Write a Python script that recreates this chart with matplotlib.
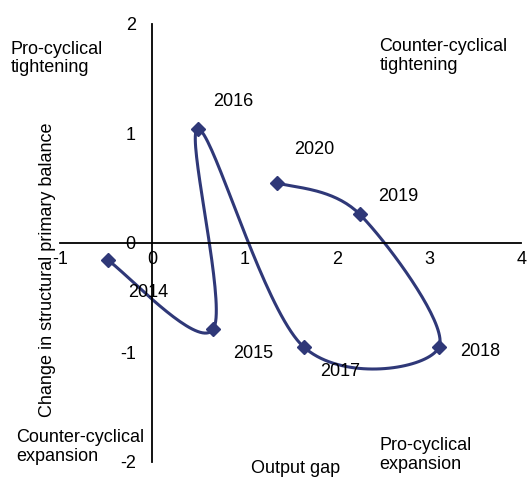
import numpy as np
import matplotlib.pyplot as plt

plt.rcParams['font.family'] = ['Liberation Sans', 'DejaVu Sans']
plt.rcParams['axes.unicode_minus'] = False

years = ['2014', '2015', '2016', '2017', '2018', '2019', '2020']
output_gap = [-0.48, 0.66, 0.50, 1.64, 3.11, 2.25, 1.35]
primary_balance = [-0.16, -0.79, 1.04, -0.95, -0.95, 0.26, 0.55]

# label offsets for the years (data units)
label_dx = [0.43, 0.43, 0.38, 0.40, 0.45, 0.42, 0.41]
label_dy = [-0.29, -0.22, 0.25, -0.23, -0.04, 0.16, 0.30]

line_color = '#2f3878'


def smooth_curve(xs, ys, n=40):  # Catmull-Rom through the points, like Excel's smoothed line
    pts = np.column_stack([xs, ys])
    padded = np.vstack([pts[0], pts, pts[-1]])
    out = []
    t = np.linspace(0, 1, n)[:, None]
    for i in range(1, len(padded) - 2):
        p0, p1, p2, p3 = padded[i - 1], padded[i], padded[i + 1], padded[i + 2]
        c1 = p1 + (p2 - p0) / 6
        c2 = p2 - (p3 - p1) / 6
        seg = (1 - t) ** 3 * p1 + 3 * (1 - t) ** 2 * t * c1 + 3 * (1 - t) * t ** 2 * c2 + t ** 3 * p2
        out.append(seg)
    out = np.vstack(out)
    return out[:, 0], out[:, 1]


fig = plt.figure(figsize=(5.27, 4.78), dpi=100)
ax = fig.add_axes([0.114, 0.034, 0.875, 0.916])
ax.set_xlim(-1, 4)
ax.set_ylim(-2, 2)

for s in ['top', 'right']:
    ax.spines[s].set_visible(False)
ax.spines['left'].set_position(('data', 0))
ax.spines['bottom'].set_position(('data', 0))
ax.spines['left'].set_linewidth(1.3)
ax.spines['bottom'].set_linewidth(1.3)

ax.set_xticks([-1, 0, 1, 2, 3, 4])
ax.set_yticks([-2, -1, 0, 1, 2])
ax.set_xticklabels(['-1', '0', '1', '2', '3', '4'])
ax.set_yticklabels(['-2', '-1', '0', '1', '2'])
ax.tick_params(axis='both', length=0, labelsize=13)
ax.tick_params(axis='x', pad=6)
ax.tick_params(axis='y', pad=12)

sx, sy = smooth_curve(output_gap, primary_balance)
ax.plot(sx, sy, color=line_color, lw=2.2, clip_on=False)
ax.plot(output_gap, primary_balance, linestyle='none', marker='D', markersize=7,
        color=line_color, clip_on=False)

for i in range(len(years)):
    ax.text(output_gap[i] + label_dx[i], primary_balance[i] + label_dy[i], years[i],
            fontsize=13, ha='center', va='center')

fig.text(0.09, 0.435, 'Change in structural primary balance', rotation=90,
         fontsize=13, ha='center', va='center')
fig.text(0.56, 0.02, 'Output gap', fontsize=13, ha='center', va='center')

fig.text(0.02, 0.878, 'Pro-cyclical\ntightening', fontsize=13, va='center', ha='left', linespacing=1.12)
fig.text(0.72, 0.883, 'Counter-cyclical\ntightening', fontsize=13, va='center', ha='left', linespacing=1.12)
fig.text(0.03, 0.065, 'Counter-cyclical\nexpansion', fontsize=13, va='center', ha='left', linespacing=1.12)
fig.text(0.72, 0.048, 'Pro-cyclical\nexpansion', fontsize=13, va='center', ha='left', linespacing=1.12)

fig.savefig('out.png', dpi=100)
